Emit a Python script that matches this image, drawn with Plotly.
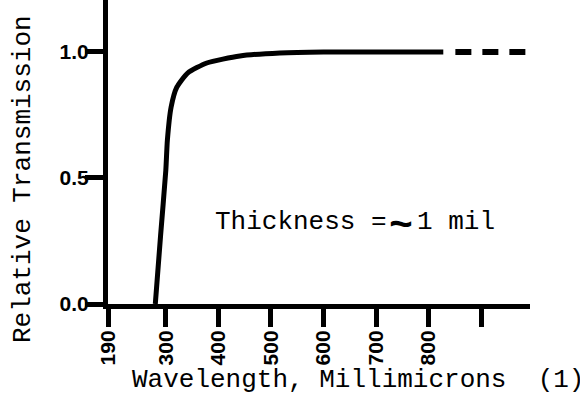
import plotly.graph_objects as go

# Measured transmission curve (solid part)
wavelength = [280, 290, 300, 303, 310, 321, 342, 378, 441, 517, 600, 700, 828]
transmission = [0.0, 0.27, 0.53, 0.65, 0.78, 0.86, 0.917, 0.956, 0.984, 0.996, 1.0, 1.0, 1.0]

# Extrapolated (dashed) continuation
wavelength_ext = [851, 990]
transmission_ext = [1.0, 1.0]

x_tickvals = [190, 300, 400, 500, 600, 700, 800, 900]
x_ticktext = ["190", "300", "400", "500", "600", "700", "800", ""]
y_tickvals = [0.0, 0.5, 1.0]
y_ticktext = ["0.0", "0.5", "1.0"]

MONO = "Liberation Mono, Courier New, monospace"
SANS = "Liberation Sans, Arial, sans-serif"

fig = go.Figure()
fig.add_trace(go.Scatter(
    x=wavelength, y=transmission, mode="lines",
    line=dict(color="black", width=5, shape="spline", smoothing=0.6),
    showlegend=False,
))
fig.add_trace(go.Scatter(
    x=wavelength_ext, y=transmission_ext, mode="lines",
    line=dict(color="black", width=6, dash="16px,11px"),
    showlegend=False,
))

axis_common = dict(
    showline=True, linecolor="black", linewidth=5,
    ticks="outside", ticklen=18, tickwidth=5, tickcolor="black",
    showgrid=False, zeroline=False,
    tickfont=dict(family=SANS, size=21, color="black", weight="bold"),
)

fig.update_xaxes(range=[190, 993], tickmode="array", tickvals=x_tickvals,
                 ticktext=x_ticktext, tickangle=-90, ticklabelstandoff=-5,
                 **axis_common)
fig.update_yaxes(range=[0, 1.206], tickmode="array", tickvals=y_tickvals,
                 ticktext=y_ticktext, ticklabelstandoff=-8, **axis_common)

mono_font = dict(family=MONO, size=26, color="black")

fig.add_annotation(
    text="Relative Transmission (%)", xref="paper", yref="paper",
    x=0, y=0.513, xshift=-85, xanchor="center", yanchor="middle",
    textangle=-90, showarrow=False, font=mono_font,
)
fig.add_annotation(
    text="Wavelength, Millimicrons\u00a0\u00a0(1)", xref="paper", yref="paper",
    x=0.052, y=-0.25, xanchor="left", yanchor="middle", showarrow=False,
    font=mono_font,
)

# "Thickness = ~1 mil" note, with a heavy approximate sign
fig.add_annotation(
    text="Thickness =", xref="paper", yref="paper",
    x=0.2488, y=0.27, xanchor="left", yanchor="middle", showarrow=False,
    font=mono_font,
)
fig.add_annotation(
    text="<b>~</b>", xref="paper", yref="paper",
    x=(401 - 108) / 422, y=(304 - 226) / 304, xanchor="center", yanchor="middle",
    showarrow=False, font=dict(family=MONO, size=40, color="black"),
)
fig.add_annotation(
    text="1 mil", xref="paper", yref="paper",
    x=(415 - 108) / 422, y=0.27, xanchor="left", yanchor="middle", showarrow=False,
    font=mono_font,
)

fig.update_layout(
    width=580, height=398,
    margin=dict(l=108, r=50, t=0, b=94),
    paper_bgcolor="white", plot_bgcolor="white",
)

fig.write_html("out.html")
